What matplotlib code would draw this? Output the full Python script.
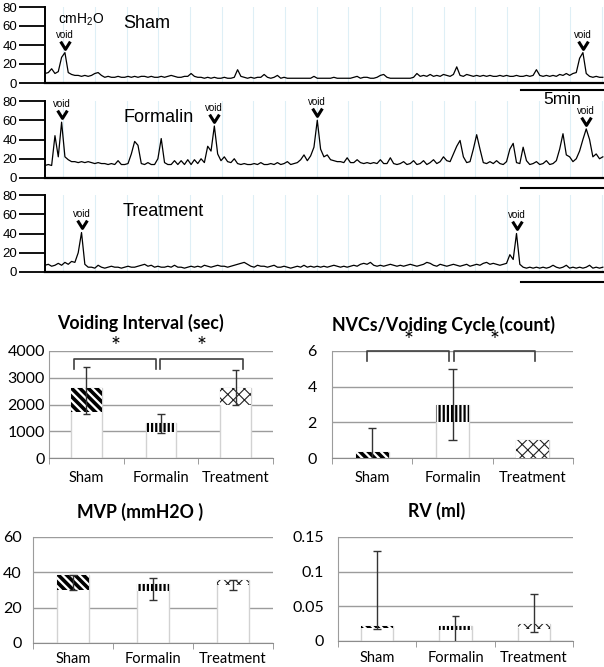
import matplotlib.pyplot as plt
import numpy as np
from matplotlib.path import Path

plt.rcParams['font.family'] = ['Liberation Sans', 'DejaVu Sans']
bar_font = ['Lato', 'DejaVu Sans']

# cystometry traces (cmH2O), one sample every 0.2 min
dt = 0.2
sham = [10, 11, 15, 10, 12, 27, 32, 11, 9, 8,
        8, 7, 8, 7, 8, 10, 11, 8, 6, 7,
        6, 6, 7, 6, 6, 7, 6, 7, 6, 7,
        7, 6, 7, 6, 6, 7, 6, 7, 8, 7,
        6, 6, 7, 7, 10, 7, 6, 6, 5, 6,
        5, 6, 5, 5, 6, 5, 5, 6, 14, 7,
        6, 5, 6, 5, 6, 6, 9, 6, 5, 6,
        8, 5, 6, 5, 5, 5, 5, 5, 5, 5,
        5, 7, 5, 5, 5, 5, 5, 6, 5, 5,
        5, 5, 5, 6, 7, 5, 6, 6, 5, 5,
        6, 8, 9, 6, 5, 5, 5, 5, 5, 5,
        5, 6, 10, 7, 8, 7, 9, 7, 8, 7,
        9, 8, 7, 9, 17, 8, 7, 9, 8, 7,
        8, 7, 8, 7, 8, 7, 7, 8, 7, 8,
        7, 7, 8, 7, 7, 8, 7, 8, 14, 8,
        7, 8, 7, 8, 7, 9, 8, 10, 8, 10,
        11, 26, 32, 10, 7, 6, 7, 6, 6]
formalin = [13, 14, 13, 44, 22, 58, 22, 19, 17, 17,
            16, 17, 16, 17, 16, 15, 16, 15, 15, 14,
            15, 14, 18, 14, 14, 15, 25, 38, 34, 15,
            14, 16, 14, 14, 20, 41, 16, 14, 14, 18,
            14, 18, 14, 19, 14, 19, 15, 20, 16, 33,
            28, 54, 25, 18, 22, 17, 16, 20, 15, 14,
            15, 14, 14, 15, 14, 16, 14, 14, 15, 14,
            16, 14, 15, 17, 14, 15, 16, 19, 24, 18,
            23, 32, 60, 30, 22, 24, 19, 18, 17, 17,
            16, 21, 16, 16, 19, 16, 15, 16, 15, 16,
            15, 19, 15, 15, 21, 15, 14, 15, 17, 14,
            15, 18, 14, 15, 18, 14, 16, 19, 15, 17,
            22, 18, 17, 25, 33, 39, 22, 16, 17, 30,
            45, 30, 16, 15, 17, 15, 18, 15, 14, 17,
            30, 36, 16, 15, 32, 18, 14, 15, 17, 14,
            15, 18, 14, 15, 18, 30, 46, 24, 22, 17,
            20, 28, 40, 51, 40, 22, 25, 20, 22]
treatment = [7, 8, 6, 7, 9, 7, 10, 8, 11, 10,
             20, 41, 8, 5, 5, 4, 7, 5, 4, 5,
             6, 5, 5, 4, 5, 6, 5, 5, 6, 7,
             8, 6, 7, 5, 6, 5, 5, 6, 5, 7,
             5, 5, 4, 5, 6, 5, 6, 5, 7, 6,
             5, 6, 7, 6, 6, 5, 6, 7, 8, 9,
             10, 8, 6, 5, 7, 6, 6, 5, 6, 7,
             5, 5, 6, 5, 4, 5, 6, 5, 7, 5,
             6, 5, 6, 5, 6, 5, 6, 7, 6, 5,
             6, 5, 6, 7, 6, 8, 9, 8, 10, 7,
             6, 7, 6, 7, 8, 7, 6, 7, 6, 7,
             8, 7, 6, 7, 8, 10, 9, 7, 6, 8,
             7, 6, 7, 8, 7, 6, 7, 8, 6, 7,
             8, 7, 9, 10, 8, 9, 8, 7, 8, 9,
             18, 13, 40, 8, 5, 4, 5, 4, 5, 4,
             5, 4, 5, 7, 5, 4, 5, 7, 4, 5,
             4, 5, 4, 5, 7, 4, 5, 4, 5]
sham_voids = [6, 162]
formalin_voids = [5, 51, 82, 163]
treatment_voids = [11, 142]

# summary bars
groups = ['Sham', 'Formalin', 'Treatment']
vi_top = [2620, 1320, 2620]
vi_base = [1720, 990, 1980]
vi_hi = [3410, 1650, 3290]
vi_lo = [1650, 950, 1980]
nvc_top = [0.33, 3.0, 1.0]
nvc_base = [0, 2.0, 0]
nvc_hi = [1.67, 5.0, 1.0]
nvc_lo = [0, 1.0, 1.0]
mvp_top = [38.3, 33.2, 35.5]
mvp_base = [30.0, 29.4, 32.7]
mvp_hi = [38.7, 37.0, 35.7]
mvp_lo = [29.8, 24.5, 29.8]
rv_top = [0.022, 0.021, 0.024]
rv_base = [0.019, 0.016, 0.018]
rv_hi = [0.130, 0.0365, 0.068]
rv_lo = [0.018, 0, 0.0125]

W, H = 604.0, 667.0
fig = plt.figure(figsize=(6.04, 6.67), dpi=100)


def rect(x0, y0, x1, y1):
    return [x0 / W, 1 - y1 / H, (x1 - x0) / W, (y1 - y0) / H]


tmax = 33.67
chevron = Path([(-1, 0.8), (0, -0.8), (1, 0.8)], [Path.MOVETO, Path.LINETO, Path.LINETO])


def trace_panel(r, vals, voids, label, bar_y):
    ax = fig.add_axes(r)
    t = np.arange(len(vals)) * dt
    for g in np.arange(1.09, tmax, 1.91):
        ax.axvline(g, color='#deeff6', lw=0.8, zorder=0)
    ax.plot(t, vals, color='black', lw=0.9)
    for i in voids:
        ax.plot(t[i], vals[i] + 8.5, marker=chevron, ms=7, mfc='none', mec='black', mew=2.2)
        ax.text(t[i], vals[i] + 19, 'void', ha='center', va='center', fontsize=7)
    ax.text(4.7, 63, label, ha='left', va='center', fontsize=13)
    ax.set_xlim(0, tmax)
    ax.set_ylim(0, 80)
    ax.set_yticks([0, 20, 40, 60, 80])
    ax.set_xticks([])
    ax.tick_params(axis='y', length=19, width=1.3, labelsize=9.5, pad=1)
    for s in ['top', 'right']:
        ax.spines[s].set_visible(False)
    ax.spines['left'].set_linewidth(1.4)
    ax.spines['bottom'].set_linewidth(1.6)
    ax.plot([tmax - 5, tmax], [bar_y, bar_y], color='black', lw=1.5, clip_on=False)
    ax.patch.set_alpha(0)
    return ax


ax1 = trace_panel(rect(45, 7, 604, 83), sham, sham_voids, 'Sham', -7.4)
ax1.text(0.8, 67, 'cmH$_\\mathregular{2}$O', ha='left', va='center', fontsize=10)
ax1.text(tmax - 2.5, -17.5, '5min', ha='center', va='center', fontsize=12.5)
trace_panel(rect(45, 101, 604, 178), formalin, formalin_voids, 'Formalin', -9.9)
trace_panel(rect(45, 195, 604, 272), treatment, treatment_voids, 'Treatment', -10.4)

hatches = ['\\\\\\\\', '||||', 'xxx']
hatch_lw = [2.6, 1.6, 0.8]
hatch_col = ['black', 'black', '#222222']


def bar_panel(r, top, base, hi, lo, ymax, ticks, labels, ypad, xpad):
    ax = fig.add_axes(r)
    x = np.arange(3)
    ax.bar(x, top, 0.41, color='white', edgecolor='#d2d2d2', lw=1, zorder=2)
    for k in range(3):
        with plt.rc_context({'hatch.linewidth': hatch_lw[k]}):
            b = ax.bar(x[k], top[k] - base[k], 0.41, bottom=base[k], color='white',
                       edgecolor=hatch_col[k], lw=0, hatch=hatches[k], zorder=3)
            for p in b:
                if hasattr(p, 'set_hatch_linewidth'):
                    p.set_hatch_linewidth(hatch_lw[k])
    for k in range(3):
        if hi[k] == lo[k]:
            continue
        ax.vlines(x[k], lo[k], hi[k], color='#333333', lw=1, zorder=4)
        ax.hlines(hi[k], x[k] - 0.05, x[k] + 0.05, color='#333333', lw=1, zorder=4)
        if lo[k] > 0:
            ax.hlines(lo[k], x[k] - 0.05, x[k] + 0.05, color='#333333', lw=1, zorder=4)
    ax.set_xlim(-0.5, 2.5)
    ax.set_ylim(0, ymax)
    ax.set_yticks(ticks)
    ax.set_yticklabels(labels, family=bar_font, fontsize=11.5)
    ax.set_xticks(x)
    ax.set_xticklabels(groups, family=bar_font, fontsize=10.5)
    ax.set_xticks([-0.5, 0.5, 1.5, 2.5], minor=True)
    ax.tick_params(axis='x', which='major', length=0, pad=xpad)
    ax.tick_params(axis='x', which='minor', length=4, color='#8c8c8c')
    ax.tick_params(axis='y', length=0, pad=ypad)
    ax.grid(axis='y', color='#9c9c9c', lw=1)
    ax.set_axisbelow(True)
    for s in ['top', 'right']:
        ax.spines[s].set_visible(False)
    ax.spines['left'].set_color('#9c9c9c')
    ax.spines['bottom'].set_color('#8c8c8c')
    return ax


def bracket(ax, x0, x1, ytop, yleg, ystar):
    ax.plot([x0, x0, x1, x1], [yleg, ytop, ytop, yleg], color='#404040', lw=1.2, clip_on=False)
    ax.text((x0 + x1) / 2, ystar, '*', ha='center', va='center', fontsize=17,
            family=bar_font, clip_on=False)


ax_vi = bar_panel(rect(49, 351, 273, 458), vi_top, vi_base, vi_hi, vi_lo, 4000,
                  [0, 1000, 2000, 3000, 4000], ['0', '1000', '2000', '3000', '4000'], 3, 9)
bracket(ax_vi, -0.16, 0.93, 3700, 3330, 4150)
bracket(ax_vi, 0.99, 2.1, 3700, 3330, 4150)

ax_nvc = bar_panel(rect(332, 351, 573, 458), nvc_top, nvc_base, nvc_hi, nvc_lo, 6,
                   [0, 2, 4, 6], ['0', '2', '4', '6'], 11, 9)
bracket(ax_nvc, -0.06, 0.96, 6.0, 5.44, 6.6)
bracket(ax_nvc, 1.02, 2.03, 6.0, 5.44, 6.6)

bar_panel(rect(33, 537, 273, 643), mvp_top, mvp_base, mvp_hi, mvp_lo, 60,
          [0, 20, 40, 60], ['0', '20', '40', '60'], 8, 6.5)
bar_panel(rect(338, 537, 573, 641), rv_top, rv_base, rv_hi, rv_lo, 0.15,
          [0, 0.05, 0.1, 0.15], ['0', '0.05', '0.1', '0.15'], 10, 7.5)

titles = ['Voiding Interval (sec)', 'NVCs/Voiding Cycle (count)', 'MVP (mmH2O )', 'RV (ml)']
title_pos = [(140, 323), (444, 325), (140, 512), (437, 511)]
for s, (tx, ty) in zip(titles, title_pos):
    fig.text(tx / W, 1 - ty / H, s, ha='center', va='center', fontsize=12.8,
             fontweight='bold', family=bar_font)

fig.savefig('out.png', dpi=100)
